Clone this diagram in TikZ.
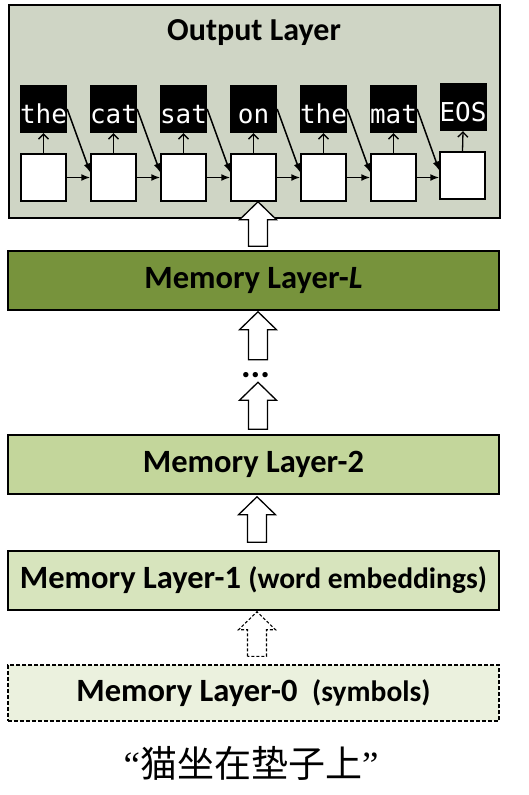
\documentclass[tikz,border=0pt]{standalone}
\usepackage{fontspec}
\setmainfont{Carlito}
\newfontfamily\monof{DejaVu Sans Mono}
\newfontfamily\cjkf{Noto Sans CJK SC}
\newfontfamily\serf{Liberation Serif}
\usetikzlibrary{calc,arrows.meta}
\definecolor{outbg}{RGB}{207,213,197}
\definecolor{layL}{RGB}{119,147,60}
\definecolor{laytwo}{RGB}{195,214,155}
\definecolor{layone}{RGB}{215,228,189}
\definecolor{layzero}{RGB}{235,241,222}
\newcommand\blockarr[3][]{%
  \draw[bigarrow,#1] let \p1=(#2), \p2=(#3) in
  (\x2-9.5pt,\y1) -- (\x2-9.5pt,\y2-18pt) -- (\x2-18.5pt,\y2-18pt) -- (\x2,\y2)
  -- (\x2+18.5pt,\y2-18pt) -- (\x2+9.5pt,\y2-18pt) -- (\x2+9.5pt,\y1) -- cycle;}
\begin{document}
\begin{tikzpicture}[x=1pt,y=-1pt,
  outbox/.style={draw, fill=outbg, line width=1.2pt, minimum width=491pt, minimum height=213pt, inner sep=0pt},
  layer/.style={draw, line width=1.5pt, minimum width=491pt, minimum height=59pt, inner sep=0pt,
    font=\bfseries\fontsize{32.5}{32.5}\selectfont},
  wbox/.style={draw, fill=white, line width=1.5pt, minimum width=45pt, minimum height=47pt, inner sep=0pt},
  kbox/.style={fill=black, text=white, minimum width=47pt, minimum height=48pt, inner sep=0pt,
    text height=28pt, text depth=0pt, font=\monof\fontsize{26}{26}\selectfont},
  uparr/.style={-{Straight Barb[length=5pt,width=10pt,line width=1.3pt]}, line width=1.3pt},
  seqarr/.style={-{Latex[length=9pt,width=7pt]}, line width=1.5pt},
  bigarrow/.style={draw, fill=white, line width=1.3pt},
  small/.style={font=\bfseries\fontsize{32}{32}\selectfont}]
\useasboundingbox (0,0) rectangle (529,795);
\fill[white] (0,0) rectangle (529,795);
\node[outbox] (out) at (254.5,111.5) {};
\node[small] (otitle) at (254,33) {Output Layer};
\foreach \i/\x/\w in {1/43.5/the,2/113.5/cat,3/183.5/sat,4/253.5/on,5/323.5/the,6/393.5/mat}{
  \node[wbox] (w\i) at (\x,177.5) {};
  \node[kbox] (k\i) at (\x,109) {\w};
}
\node[wbox] (w7) at (462.5,175.5) {};
\node[kbox] (k7) at (463,107) {EOS};
\foreach \i in {1,...,7} \draw[uparr] (w\i.north) -- (k\i.south);
\foreach \i/\j in {1/2,2/3,3/4,4/5,5/6,6/7}{
  \draw[seqarr] (w\i.east) -- (w\i.east -| w\j.west);
  \draw[seqarr] (k\i.east) -- ($(w\j.west)+(0,-5)$);
}
\node[layer, fill=layL] (LL) at (253.5,280.5) {Memory Layer-\textit{L}};
\node[layer, fill=laytwo] (L2) at (253.5,464.5) {Memory Layer-2};
\node[layer, fill=layone] (L1) at (253.5,580.5) {Memory Layer-1 {\fontsize{29.5}{29.5}\selectfont (word embeddings)}};
\node[layer, fill=layzero, minimum height=56pt, line width=1.2pt, dash pattern=on 4pt off 2pt] (L0) at (253.5,693)
  {Memory Layer-0\ \ {\fontsize{29.5}{29.5}\selectfont (symbols)}};
\node[font=\bfseries\fontsize{36}{36}\selectfont, inner sep=0pt] (dots) at (255.5,375) {...};
\coordinate (a1f) at ($(LL.north)+(4.5,-4)$);
\coordinate (a1t) at ($(w4.south)+(4.5,0)$);
\coordinate (a2f) at ($(LL.south)+(4.5,49)$);
\coordinate (a2t) at ($(LL.south)+(4.5,1)$);
\coordinate (a3f) at ($(L2.north)+(4.5,-5)$);
\coordinate (a3t) at ($(L2.north)+(4.5,-52)$);
\coordinate (a4f) at ($(L1.north)+(3.5,-8)$);
\coordinate (a4t) at ($(L2.south)+(3.5,2)$);
\coordinate (a5f) at ($(L0.north)+(3.5,-8)$);
\coordinate (a5t) at ($(L1.south)+(3.5,1)$);
\blockarr{a1f}{a1t}
\blockarr{a2f}{a2t}
\blockarr{a3f}{a3t}
\blockarr{a4f}{a4t}
\blockarr[dash pattern=on 3pt off 2pt, line width=1.1pt]{a5f}{a5t}
\node[font=\fontsize{37}{37}\selectfont] (cn) at (251,763) {{\serf “}{\cjkf 猫坐在垫子上}{\serf ”}};
\end{tikzpicture}
\end{document}
